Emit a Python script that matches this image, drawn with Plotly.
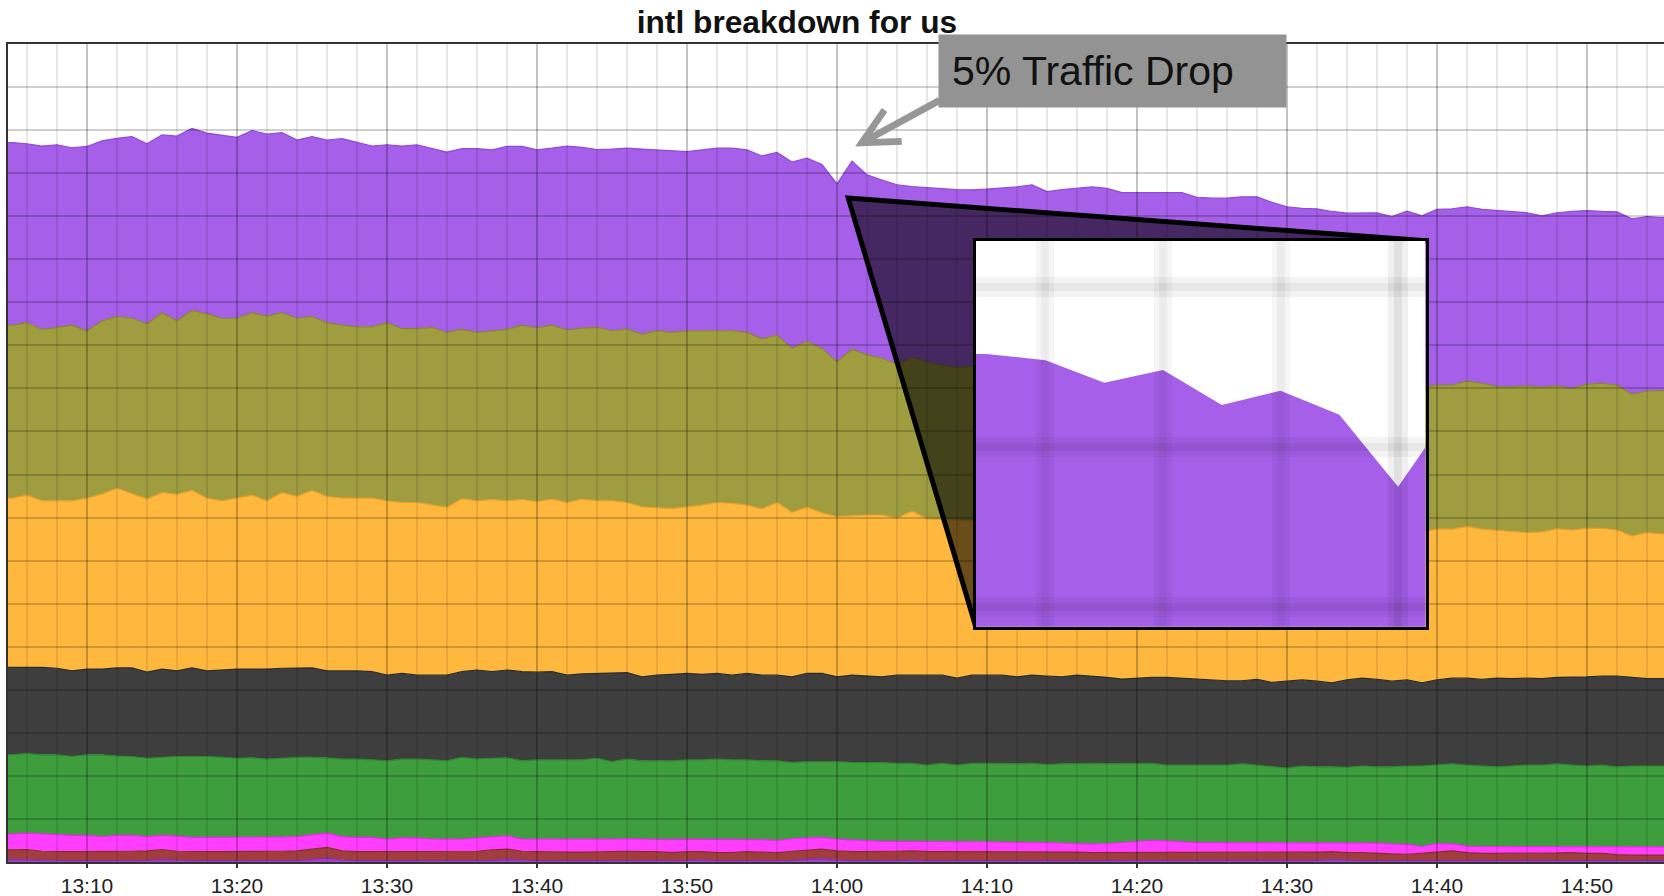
import pandas as pd
import plotly.graph_objects as go

DAY = "2014-01-01 "
# one sample per minute, 13:04 .. 14:56
times = pd.date_range(DAY + "13:04", DAY + "14:56", freq="min")

# stacked layers, bottom to top (values per layer, same units as the y axis)
purple_low = [0.5, 0.6, 0.5, 0.4, 0.3, 0.3, 0.3, 0.3, 0.3, 0.3,
              0.4, 0.6, 0.4, 0.3, 0.3, 0.3, 0.3, 0.3, 0.3, 0.3,
              0.4, 0.6, 0.9, 0.5, 0.3, 0.3, 0.3, 0.3, 0.3, 0.3,
              0.3, 0.3, 0.3, 0.4, 0.6, 0.4, 0.3, 0.3, 0.3, 0.3,
              0.3, 0.3, 0.3, 0.3, 0.3, 0.3, 0.4, 0.5, 0.3, 0.3,
              0.3, 0.3, 0.3, 0.4, 0.6, 0.8, 0.5, 0.3, 0.3, 0.3,
              0.4, 0.5, 0.3, 0.3, 0.3, 0.3, 0.3, 0.3, 0.3, 0.3,
              0.3, 0.3, 0.3, 0.3, 0.3, 0.3, 0.3, 0.3, 0.3, 0.3,
              0.3, 0.3, 0.3, 0.3, 0.3, 0.3, 0.3, 0.3, 0.4, 0.6,
              0.4, 0.3, 0.3, 0.3, 0.3, 0.3, 0.3, 0.3, 0.3, 0.3,
              0.3, 0.3, 0.3, 0.3, 0.3, 0.3, 0.3, 0.3, 0.3, 0.3,
              0.3, 0.3, 0.3]
brown = [2.3, 2.2, 2.4, 2.1, 2.1, 2.1, 2.1, 2.1, 2.1, 2.2,
         2.2, 2.3, 2.1, 2.1, 2.1, 2.1, 2.1, 2.1, 2.1, 2.2,
         2.2, 2.4, 2.5, 2.1, 2.1, 2.1, 2.1, 2.1, 2.1, 2.1,
         2.1, 2.1, 2.2, 2.4, 2.4, 2.1, 2.1, 2.0, 2.0, 2.0,
         2.1, 2.1, 2.2, 2.1, 2.1, 1.9, 2.0, 1.9, 1.9, 1.9,
         2.1, 2.0, 1.9, 2.1, 2.2, 2.2, 2.1, 2.1, 2.1, 2.1,
         2.1, 2.1, 2.1, 2.1, 2.1, 2.1, 2.1, 2.1, 2.1, 2.0,
         2.0, 2.0, 2.0, 1.9, 1.9, 1.9, 1.9, 1.9, 1.9, 1.9,
         1.9, 1.9, 1.9, 1.9, 1.9, 1.9, 1.9, 1.9, 1.9, 1.8,
         1.8, 1.9, 1.7, 1.6, 1.5, 1.7, 2.0, 2.3, 1.9, 1.7,
         1.7, 1.7, 1.7, 1.7, 1.8, 1.9, 1.7, 1.7, 1.4, 1.3,
         1.3, 1.3, 1.3]
magenta = [3.7, 3.7, 3.8, 4.0, 3.9, 3.8, 3.8, 3.5, 3.8, 3.7,
           3.3, 3.3, 3.5, 3.3, 3.3, 3.3, 3.3, 3.3, 3.3, 3.3,
           3.3, 3.3, 3.3, 3.3, 3.3, 3.3, 2.9, 3.2, 3.2, 2.9,
           2.9, 2.9, 3.1, 3.0, 3.1, 2.8, 2.9, 3.0, 3.0, 2.9,
           2.9, 2.9, 2.9, 2.9, 2.9, 3.0, 2.9, 2.9, 3.0, 3.0,
           2.9, 2.9, 2.8, 2.9, 2.8, 2.7, 2.7, 2.7, 2.5, 2.4,
           2.3, 2.2, 2.3, 2.3, 2.3, 2.3, 2.3, 2.2, 2.2, 2.2,
           2.2, 2.1, 2.0, 2.0, 2.1, 2.3, 2.5, 2.8, 2.7, 2.5,
           2.3, 2.3, 2.3, 2.3, 2.3, 2.3, 2.3, 2.3, 2.2, 2.1,
           2.3, 2.3, 2.4, 2.3, 2.3, 1.6, 2.0, 1.6, 1.5, 1.6,
           1.6, 1.6, 1.6, 1.6, 1.5, 1.4, 1.6, 1.6, 1.8, 1.9,
           2.0, 1.9, 1.9]
green = [18.4, 18.4, 18.5, 18.4, 18.6, 18.3, 18.7, 19.0, 18.4, 18.3,
         18.2, 18.1, 18.5, 18.8, 18.8, 18.6, 18.4, 18.5, 18.2, 18.3,
         18.4, 18.0, 17.5, 18.0, 18.2, 18.0, 18.2, 18.3, 18.3, 18.4,
         18.2, 19.0, 18.3, 18.3, 18.1, 18.2, 18.4, 18.4, 18.4, 18.5,
         18.8, 18.0, 18.5, 18.2, 18.2, 18.3, 18.4, 18.4, 18.7, 18.5,
         18.4, 18.3, 18.5, 17.7, 17.7, 17.6, 18.0, 18.0, 18.2, 18.3,
         18.1, 18.1, 17.8, 18.2, 17.8, 18.2, 18.2, 18.2, 18.2, 18.4,
         18.1, 18.4, 18.6, 18.7, 18.5, 18.3, 18.2, 17.9, 17.6, 17.8,
         18.0, 18.0, 18.0, 18.3, 18.0, 17.6, 17.3, 17.8, 17.6, 17.6,
         17.5, 17.8, 17.7, 17.9, 18.2, 18.7, 18.2, 18.6, 18.8, 18.7,
         18.5, 18.7, 18.9, 18.9, 19.2, 18.9, 18.7, 18.9, 18.6, 18.8,
         18.7, 18.8, 18.8]
charcoal = [20.3, 20.3, 20.0, 20.3, 20.1, 19.9, 19.9, 19.9, 20.5, 20.6,
            20.0, 20.5, 19.9, 20.6, 19.9, 20.3, 20.7, 20.6, 20.9, 20.9,
            20.8, 20.8, 20.2, 20.5, 20.5, 20.5, 19.9, 19.9, 19.5, 19.7,
            19.9, 19.9, 20.7, 20.1, 20.4, 20.7, 20.4, 20.5, 19.7, 20.0,
            19.7, 20.5, 20.1, 19.5, 19.9, 20.1, 20.1, 19.9, 19.9, 19.7,
            20.1, 19.9, 19.9, 19.9, 20.5, 20.5, 19.7, 20.3, 20.1, 19.9,
            20.5, 20.5, 20.9, 20.5, 20.2, 20.5, 20.5, 20.6, 20.2, 20.5,
            20.6, 20.2, 20.5, 20.3, 20.1, 19.7, 19.8, 20.0, 20.4, 20.2,
            19.9, 19.8, 19.6, 19.3, 19.9, 19.6, 20.2, 20.0, 19.9, 19.5,
            20.3, 20.4, 20.3, 19.9, 20.0, 19.3, 19.8, 19.9, 20.2, 20.1,
            20.6, 20.3, 20.2, 20.1, 20.1, 20.4, 20.7, 20.7, 21.1, 20.6,
            20.3, 20.3, 20.3]
orange = [39.3, 39.3, 40.0, 38.7, 38.9, 39.5, 39.7, 40.7, 41.7, 40.5,
          40.2, 41.0, 41.0, 41.2, 40.1, 39.3, 39.7, 40.4, 39.1, 40.8,
          39.8, 41.2, 40.5, 40.1, 40.1, 40.3, 40.5, 39.7, 40.1, 39.5,
          39.0, 40.2, 39.3, 40.0, 39.3, 40.0, 39.6, 40.1, 40.1, 40.6,
          40.1, 40.1, 39.5, 39.5, 38.9, 38.5, 38.7, 39.3, 39.7, 39.9,
          39.1, 38.6, 40.1, 38.2, 38.6, 37.3, 37.2, 37.0, 37.4, 37.6,
          36.4, 38.1, 36.3, 36.2, 36.7, 35.9, 35.6, 35.5, 36.1, 35.3,
          35.4, 35.8, 35.0, 35.1, 35.6, 35.6, 35.3, 35.3, 34.9, 35.0,
          35.5, 35.3, 35.3, 35.5, 34.9, 35.5, 35.4, 34.7, 35.1, 35.3,
          34.7, 34.1, 34.5, 34.6, 34.5, 35.1, 35.0, 34.6, 35.2, 34.9,
          34.3, 34.1, 33.8, 34.1, 34.5, 34.2, 34.5, 34.3, 33.9, 32.8,
          33.9, 33.6, 33.7]
olive = [40.2, 40.2, 40.1, 39.8, 40.3, 40.8, 38.9, 40.2, 39.9, 40.7,
         40.7, 41.8, 40.3, 41.8, 42.8, 42.4, 41.8, 42.4, 42.9, 41.8,
         41.4, 40.4, 40.4, 40.2, 39.8, 39.8, 41.4, 40.4, 40.4, 41.3,
         40.6, 39.3, 39.1, 39.1, 39.8, 40.5, 40.4, 40.4, 40.1, 39.7,
         40.3, 39.5, 40.3, 40.1, 41.1, 40.9, 40.9, 40.5, 39.9, 40.1,
         40.1, 39.5, 38.9, 38.1, 38.6, 38.2, 36.0, 38.7, 37.2, 36.4,
         35.9, 35.7, 36.5, 35.8, 35.5, 35.9, 36.0, 35.9, 35.5, 35.7,
         35.9, 35.4, 35.6, 35.5, 35.1, 35.2, 35.1, 34.8, 34.9, 34.8,
         34.7, 34.6, 34.6, 34.3, 34.3, 34.2, 33.6, 33.8, 33.8, 33.7,
         33.5, 33.6, 33.3, 33.8, 33.4, 33.6, 33.5, 33.5, 33.8, 33.9,
         33.4, 33.7, 34.1, 33.6, 33.2, 32.9, 33.5, 33.7, 33.7, 33.0,
         32.9, 33.3, 33.3]
purple = [42.5, 42.4, 41.5, 42.6, 42.4, 41.2, 42.8, 41.8, 41.4, 42.2,
          41.8, 41.3, 42.9, 42.3, 42.0, 42.5, 42.0, 42.3, 42.3, 41.8,
          41.4, 41.8, 42.4, 43.3, 42.8, 42.0, 41.3, 42.4, 42.7, 41.6,
          41.9, 42.0, 42.7, 42.1, 42.5, 41.5, 41.3, 41.1, 42.7, 42.0,
          41.3, 42.2, 42.0, 43.0, 42.0, 42.2, 41.6, 42.0, 42.4, 42.4,
          42.4, 42.5, 42.4, 43.3, 42.5, 42.7, 41.3, 43.7, 41.8, 41.4,
          41.6, 39.7, 40.4, 41.0, 41.3, 40.9, 41.3, 41.7, 42.2, 42.9,
          41.2, 42.0, 42.5, 43.0, 42.9, 42.2, 42.4, 42.5, 42.9, 43.0,
          41.8, 42.0, 42.2, 42.6, 42.9, 41.8, 41.2, 41.0, 40.8, 40.5,
          40.2, 40.4, 40.6, 39.5, 41.0, 39.8, 40.8, 40.9, 40.5, 40.4,
          40.9, 40.7, 40.2, 39.8, 40.2, 41.1, 40.3, 39.9, 40.2, 40.7,
          40.5, 40.2, 40.2]

layers = [purple_low, brown, magenta, green, charcoal, orange, olive, purple]
names = ["purple_low", "brown", "magenta", "green", "charcoal", "orange", "olive", "purple"]
fills = ["#a23fc6", "#a03e3e", "#ff3dff", "#3e9e3e", "#3e3e3e", "#ffb83e", "#9f9d40", "#a55fe8"]
edges = ["#8a2cae", "#872d2d", "#e42ae4", "#2f862f", "#2c2c2c", "#e9a02b", "#878530", "#9149d8"]

# visible window of the main chart and of the zoomed inset
X0, X1 = DAY + "13:04:44", DAY + "14:55:08"
M0, M1 = 4.7333, 115.1333          # same window in minutes after 13:00
IX0, IX1 = DAY + "13:52:49", DAY + "14:00:28"
IM0, IM1 = 52.8167, 60.4667
IY = [148.75, 172.875]
INSET_X = [0.5845, 0.856]
INSET_Y = [0.2877, 0.7595]

fig = go.Figure()
for n, vals, fc, ec in zip(names, layers, fills, edges):
    fig.add_trace(go.Scatter(x=times, y=vals, name=n, stackgroup="main", mode="lines",
                             line=dict(color=ec, width=1.2), fillcolor=fc, hoverinfo="skip"))
# grid drawn on top of the areas
fig.add_trace(go.Scatter(x=[], y=[], xaxis="x2", yaxis="y2", showlegend=False))
# zoomed inset, same data
for n, vals, fc in zip(names, layers, fills):
    fig.add_trace(go.Scatter(x=times, y=vals, name=n, stackgroup="inset", mode="lines",
                             xaxis="x3", yaxis="y3", line=dict(width=0), fillcolor=fc,
                             hoverinfo="skip", showlegend=False))
fig.add_trace(go.Scatter(x=[], y=[], xaxis="x4", yaxis="y4", showlegend=False))
fig.add_trace(go.Scatter(x=[], y=[], xaxis="x5", yaxis="y5", showlegend=False))

FONT = "Liberation Sans, Arial, sans-serif"
hidden = dict(showticklabels=False, zeroline=False, ticks="", showline=False)

fig.update_layout(
    width=1664, height=896,
    margin=dict(l=8, r=0, t=44, b=34),
    paper_bgcolor="white", plot_bgcolor="rgba(0,0,0,0)",
    showlegend=False, hovermode=False,
    title=dict(text="<b>intl breakdown for us</b>", x=0.4764, xref="paper", xanchor="center",
               y=0.9754, yref="container", yanchor="middle",
               font=dict(family=FONT, size=31.7, color="#111")),
    xaxis=dict(type="date", range=[X0, X1], domain=[0, 1], anchor="y",
               tickformat="%H:%M", dtick=600000, tick0=DAY + "13:10",
               ticks="outside", ticklen=4, tickwidth=2, tickcolor="#333",
               tickfont=dict(family=FONT, size=21, color="#222"),
               showgrid=False, zeroline=False, showline=True, linecolor="#333",
               linewidth=2, mirror=True),
    yaxis=dict(range=[0, 190], domain=[0, 1], anchor="x", showgrid=False, zeroline=False,
               showticklabels=False, ticks="", showline=True, linecolor="#333", linewidth=2),
    xaxis2=dict(range=[M0, M1], domain=[0, 1], anchor="y2", dtick=10, tick0=0,
                showgrid=True, gridcolor="rgba(0,0,0,0.23)", gridwidth=2,
                minor=dict(dtick=2, tick0=0, showgrid=True, gridcolor="rgba(0,0,0,0.09)", gridwidth=2),
                **hidden),
    yaxis2=dict(range=[0, 190], domain=[0, 1], anchor="x2", dtick=10,
                showgrid=True, gridcolor="rgba(0,0,0,0.19)", gridwidth=2, **hidden),
    xaxis3=dict(type="date", range=[IX0, IX1], domain=INSET_X, anchor="y3", showgrid=False,
                showticklabels=False, zeroline=False, ticks="", showline=True, mirror=True,
                linecolor="black", linewidth=2.5),
    yaxis3=dict(range=IY, domain=INSET_Y, anchor="x3", showgrid=False,
                showticklabels=False, zeroline=False, ticks="", showline=True, mirror=True,
                linecolor="black", linewidth=2.5),
    # soft (blurred looking) grid for the inset: a wide faint pass and a narrow one
    xaxis4=dict(range=[IM0, IM1], domain=INSET_X, anchor="y4", dtick=10, tick0=0,
                showgrid=True, gridcolor="rgba(0,0,0,0.06)", gridwidth=20,
                minor=dict(dtick=2, tick0=0, showgrid=True, gridcolor="rgba(0,0,0,0.035)", gridwidth=18),
                **hidden),
    yaxis4=dict(range=IY, domain=INSET_Y, anchor="x4", dtick=10,
                showgrid=True, gridcolor="rgba(0,0,0,0.045)", gridwidth=20, **hidden),
    xaxis5=dict(range=[IM0, IM1], domain=INSET_X, anchor="y5", dtick=10, tick0=0,
                showgrid=True, gridcolor="rgba(0,0,0,0.06)", gridwidth=8,
                minor=dict(dtick=2, tick0=0, showgrid=True, gridcolor="rgba(0,0,0,0.04)", gridwidth=8),
                **hidden),
    yaxis5=dict(range=IY, domain=INSET_Y, anchor="x5", dtick=10,
                showgrid=True, gridcolor="rgba(0,0,0,0.05)", gridwidth=8, **hidden),
)

# dark "magnifier" wedge from the dip to the inset (minutes / value coords of the grid axes)
fig.add_shape(type="path", xref="x2", yref="y2", layer="below",
              path="M 60.75,154.2 L 99.25,144.3 L 69.25,54.66 Z",
              fillcolor="rgba(0,0,0,0.58)", line=dict(width=0))
fig.add_shape(type="path", xref="x2", yref="y2", layer="below",
              path="M 69.25,54.66 L 60.75,154.2 L 99.25,144.3",
              line=dict(color="black", width=5))
# white backing of the inset
fig.add_shape(type="rect", xref="x3", yref="y3", layer="below",
              x0=IX0, x1=IX1, y0=IY[0], y1=IY[1], fillcolor="white", line=dict(width=0))

# callout
fig.add_annotation(x=0.5115, y=0.8747, xref="paper", yref="paper", text="",
                   showarrow=True, ax=86, ay=-47, arrowhead=5, arrowsize=1,
                   arrowwidth=7, arrowcolor="#979797")
fig.add_annotation(x=0.667, y=0.967, xref="paper", yref="paper", text="5% Traffic Drop",
                   xanchor="center", yanchor="middle",
                   showarrow=False, bgcolor="#939393", borderpad=13, width=321, align="left",
                   font=dict(family=FONT, size=41, color="#111"))

# the page body margin would shift the fixed-size figure
fig.write_html("out.html", config={"displayModeBar": False},
               post_script="document.body.style.margin='0px';")
